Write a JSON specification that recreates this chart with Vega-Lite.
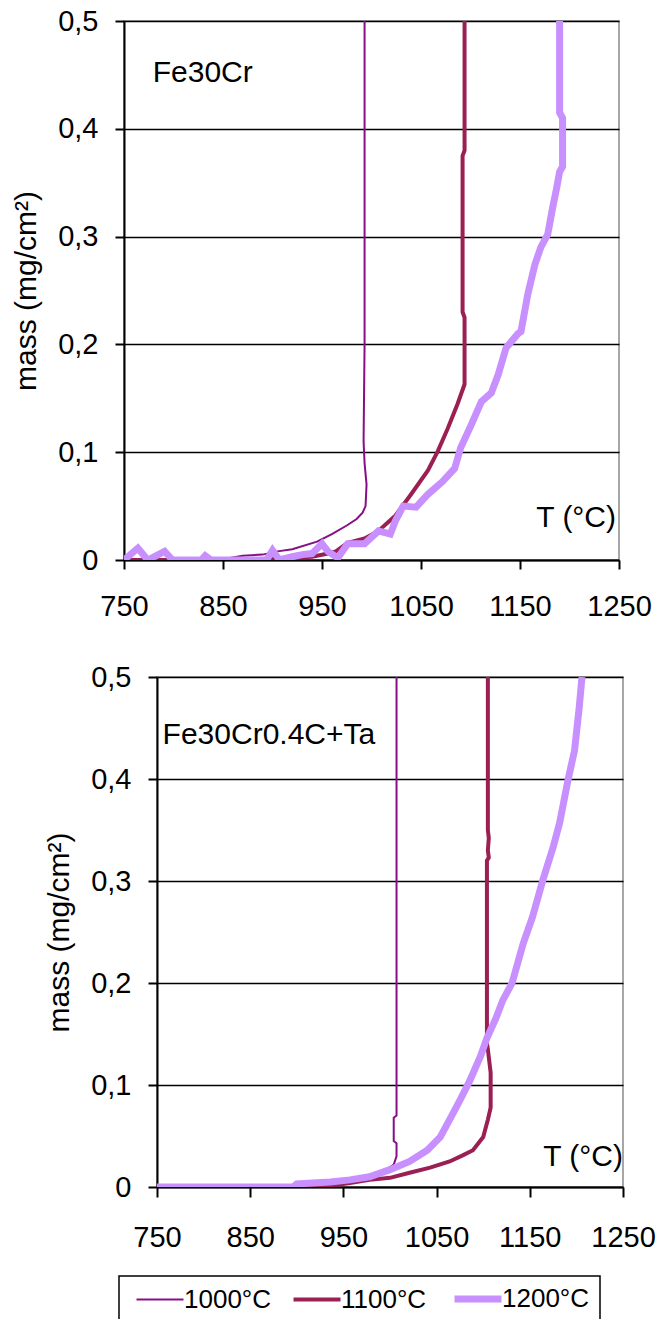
{
  "$schema": "https://vega.github.io/schema/vega-lite/v6.json",
  "padding": {"left": 10, "top": 6, "right": 0, "bottom": 0},
  "background": "white",
  "config": {
    "font": "Liberation Sans",
    "view": {"stroke": "#8a8a8a", "strokeWidth": 1.5},
    "axis": {
      "labelFont": "Liberation Sans", "labelColor": "#000", "labelFontSize": 29,
      "titleFont": "Liberation Sans", "titleColor": "#000", "titleFontSize": 30, "titleFontWeight": "normal",
      "domainColor": "#000", "domainWidth": 2, "tickColor": "#000", "tickWidth": 2, "tickSize": 9,
      "labelFlush": false, "labelOverlap": false
    },
    "text": {"font": "Liberation Sans", "color": "#000"}
  },
  "datasets": {
    "top": [
      {"series": "1000°C", "T": 750, "mass": 0, "i": 0},
      {"series": "1000°C", "T": 845, "mass": 0, "i": 1},
      {"series": "1000°C", "T": 870, "mass": 0.004, "i": 2},
      {"series": "1000°C", "T": 890, "mass": 0.005, "i": 3},
      {"series": "1000°C", "T": 905, "mass": 0.008, "i": 4},
      {"series": "1000°C", "T": 920, "mass": 0.01, "i": 5},
      {"series": "1000°C", "T": 945, "mass": 0.017, "i": 6},
      {"series": "1000°C", "T": 960, "mass": 0.024, "i": 7},
      {"series": "1000°C", "T": 975, "mass": 0.032, "i": 8},
      {"series": "1000°C", "T": 985, "mass": 0.038, "i": 9},
      {"series": "1000°C", "T": 991, "mass": 0.044, "i": 10},
      {"series": "1000°C", "T": 994, "mass": 0.05, "i": 11},
      {"series": "1000°C", "T": 995, "mass": 0.07, "i": 12},
      {"series": "1000°C", "T": 993, "mass": 0.09, "i": 13},
      {"series": "1000°C", "T": 992, "mass": 0.11, "i": 14},
      {"series": "1000°C", "T": 993, "mass": 0.2, "i": 15},
      {"series": "1000°C", "T": 993, "mass": 0.3, "i": 16},
      {"series": "1000°C", "T": 993, "mass": 0.4, "i": 17},
      {"series": "1000°C", "T": 993, "mass": 0.5, "i": 18},
      {"series": "1100°C", "T": 750, "mass": 0, "i": 0},
      {"series": "1100°C", "T": 850, "mass": 0, "i": 1},
      {"series": "1100°C", "T": 900, "mass": 0.001, "i": 2},
      {"series": "1100°C", "T": 940, "mass": 0.003, "i": 3},
      {"series": "1100°C", "T": 956, "mass": 0.006, "i": 4},
      {"series": "1100°C", "T": 964, "mass": 0.008, "i": 5},
      {"series": "1100°C", "T": 976, "mass": 0.016, "i": 6},
      {"series": "1100°C", "T": 993, "mass": 0.02, "i": 7},
      {"series": "1100°C", "T": 1007, "mass": 0.027, "i": 8},
      {"series": "1100°C", "T": 1024, "mass": 0.041, "i": 9},
      {"series": "1100°C", "T": 1040, "mass": 0.061, "i": 10},
      {"series": "1100°C", "T": 1057, "mass": 0.083, "i": 11},
      {"series": "1100°C", "T": 1067, "mass": 0.101, "i": 12},
      {"series": "1100°C", "T": 1077, "mass": 0.122, "i": 13},
      {"series": "1100°C", "T": 1087, "mass": 0.145, "i": 14},
      {"series": "1100°C", "T": 1094, "mass": 0.163, "i": 15},
      {"series": "1100°C", "T": 1094, "mass": 0.225, "i": 16},
      {"series": "1100°C", "T": 1092, "mass": 0.23, "i": 17},
      {"series": "1100°C", "T": 1092, "mass": 0.375, "i": 18},
      {"series": "1100°C", "T": 1094, "mass": 0.38, "i": 19},
      {"series": "1100°C", "T": 1094, "mass": 0.5, "i": 20},
      {"series": "1200°C", "T": 750, "mass": 0, "i": 0},
      {"series": "1200°C", "T": 764, "mass": 0.011, "i": 1},
      {"series": "1200°C", "T": 774, "mass": 0, "i": 2},
      {"series": "1200°C", "T": 791, "mass": 0.008, "i": 3},
      {"series": "1200°C", "T": 799, "mass": 0, "i": 4},
      {"series": "1200°C", "T": 828, "mass": 0, "i": 5},
      {"series": "1200°C", "T": 832, "mass": 0.004, "i": 6},
      {"series": "1200°C", "T": 838, "mass": 0, "i": 7},
      {"series": "1200°C", "T": 894, "mass": 0, "i": 8},
      {"series": "1200°C", "T": 900, "mass": 0.009, "i": 9},
      {"series": "1200°C", "T": 907, "mass": 0, "i": 10},
      {"series": "1200°C", "T": 920, "mass": 0.003, "i": 11},
      {"series": "1200°C", "T": 930, "mass": 0.005, "i": 12},
      {"series": "1200°C", "T": 940, "mass": 0.006, "i": 13},
      {"series": "1200°C", "T": 950, "mass": 0.015, "i": 14},
      {"series": "1200°C", "T": 956, "mass": 0.008, "i": 15},
      {"series": "1200°C", "T": 966, "mass": 0.002, "i": 16},
      {"series": "1200°C", "T": 976, "mass": 0.015, "i": 17},
      {"series": "1200°C", "T": 993, "mass": 0.015, "i": 18},
      {"series": "1200°C", "T": 1007, "mass": 0.027, "i": 19},
      {"series": "1200°C", "T": 1019, "mass": 0.024, "i": 20},
      {"series": "1200°C", "T": 1024, "mass": 0.036, "i": 21},
      {"series": "1200°C", "T": 1032, "mass": 0.05, "i": 22},
      {"series": "1200°C", "T": 1045, "mass": 0.049, "i": 23},
      {"series": "1200°C", "T": 1057, "mass": 0.061, "i": 24},
      {"series": "1200°C", "T": 1072, "mass": 0.073, "i": 25},
      {"series": "1200°C", "T": 1084, "mass": 0.085, "i": 26},
      {"series": "1200°C", "T": 1090, "mass": 0.104, "i": 27},
      {"series": "1200°C", "T": 1101, "mass": 0.126, "i": 28},
      {"series": "1200°C", "T": 1111, "mass": 0.147, "i": 29},
      {"series": "1200°C", "T": 1121, "mass": 0.155, "i": 30},
      {"series": "1200°C", "T": 1128, "mass": 0.172, "i": 31},
      {"series": "1200°C", "T": 1136, "mass": 0.197, "i": 32},
      {"series": "1200°C", "T": 1148, "mass": 0.21, "i": 33},
      {"series": "1200°C", "T": 1151, "mass": 0.212, "i": 34},
      {"series": "1200°C", "T": 1158, "mass": 0.247, "i": 35},
      {"series": "1200°C", "T": 1165, "mass": 0.274, "i": 36},
      {"series": "1200°C", "T": 1171, "mass": 0.29, "i": 37},
      {"series": "1200°C", "T": 1178, "mass": 0.302, "i": 38},
      {"series": "1200°C", "T": 1183, "mass": 0.327, "i": 39},
      {"series": "1200°C", "T": 1187, "mass": 0.345, "i": 40},
      {"series": "1200°C", "T": 1190, "mass": 0.36, "i": 41},
      {"series": "1200°C", "T": 1193, "mass": 0.365, "i": 42},
      {"series": "1200°C", "T": 1193, "mass": 0.41, "i": 43},
      {"series": "1200°C", "T": 1190, "mass": 0.415, "i": 44},
      {"series": "1200°C", "T": 1190, "mass": 0.5, "i": 45}
    ],
    "bottom": [
      {"series": "1000°C", "T": 750, "mass": 0, "i": 0},
      {"series": "1000°C", "T": 900, "mass": 0, "i": 1},
      {"series": "1000°C", "T": 940, "mass": 0.002, "i": 2},
      {"series": "1000°C", "T": 960, "mass": 0.005, "i": 3},
      {"series": "1000°C", "T": 980, "mass": 0.01, "i": 4},
      {"series": "1000°C", "T": 995, "mass": 0.016, "i": 5},
      {"series": "1000°C", "T": 1004, "mass": 0.022, "i": 6},
      {"series": "1000°C", "T": 1007, "mass": 0.03, "i": 7},
      {"series": "1000°C", "T": 1007, "mass": 0.043, "i": 8},
      {"series": "1000°C", "T": 1004, "mass": 0.045, "i": 9},
      {"series": "1000°C", "T": 1004, "mass": 0.068, "i": 10},
      {"series": "1000°C", "T": 1007, "mass": 0.07, "i": 11},
      {"series": "1000°C", "T": 1007, "mass": 0.5, "i": 12},
      {"series": "1100°C", "T": 750, "mass": 0, "i": 0},
      {"series": "1100°C", "T": 920, "mass": 0, "i": 1},
      {"series": "1100°C", "T": 935, "mass": 0.001, "i": 2},
      {"series": "1100°C", "T": 957, "mass": 0.004, "i": 3},
      {"series": "1100°C", "T": 978, "mass": 0.007, "i": 4},
      {"series": "1100°C", "T": 1000, "mass": 0.009, "i": 5},
      {"series": "1100°C", "T": 1021, "mass": 0.014, "i": 6},
      {"series": "1100°C", "T": 1043, "mass": 0.019, "i": 7},
      {"series": "1100°C", "T": 1064, "mass": 0.025, "i": 8},
      {"series": "1100°C", "T": 1078, "mass": 0.031, "i": 9},
      {"series": "1100°C", "T": 1089, "mass": 0.036, "i": 10},
      {"series": "1100°C", "T": 1100, "mass": 0.049, "i": 11},
      {"series": "1100°C", "T": 1105, "mass": 0.066, "i": 12},
      {"series": "1100°C", "T": 1108, "mass": 0.078, "i": 13},
      {"series": "1100°C", "T": 1108, "mass": 0.112, "i": 14},
      {"series": "1100°C", "T": 1105, "mass": 0.135, "i": 15},
      {"series": "1100°C", "T": 1104, "mass": 0.141, "i": 16},
      {"series": "1100°C", "T": 1104, "mass": 0.32, "i": 17},
      {"series": "1100°C", "T": 1106, "mass": 0.323, "i": 18},
      {"series": "1100°C", "T": 1105, "mass": 0.33, "i": 19},
      {"series": "1100°C", "T": 1106, "mass": 0.342, "i": 20},
      {"series": "1100°C", "T": 1105, "mass": 0.35, "i": 21},
      {"series": "1100°C", "T": 1105, "mass": 0.5, "i": 22},
      {"series": "1200°C", "T": 750, "mass": 0, "i": 0},
      {"series": "1200°C", "T": 896, "mass": 0, "i": 1},
      {"series": "1200°C", "T": 900, "mass": 0.003, "i": 2},
      {"series": "1200°C", "T": 936, "mass": 0.005, "i": 3},
      {"series": "1200°C", "T": 957, "mass": 0.007, "i": 4},
      {"series": "1200°C", "T": 978, "mass": 0.01, "i": 5},
      {"series": "1200°C", "T": 1000, "mass": 0.017, "i": 6},
      {"series": "1200°C", "T": 1021, "mass": 0.025, "i": 7},
      {"series": "1200°C", "T": 1040, "mass": 0.036, "i": 8},
      {"series": "1200°C", "T": 1054, "mass": 0.049, "i": 9},
      {"series": "1200°C", "T": 1064, "mass": 0.066, "i": 10},
      {"series": "1200°C", "T": 1075, "mass": 0.085, "i": 11},
      {"series": "1200°C", "T": 1086, "mass": 0.105, "i": 12},
      {"series": "1200°C", "T": 1097, "mass": 0.128, "i": 13},
      {"series": "1200°C", "T": 1104, "mass": 0.146, "i": 14},
      {"series": "1200°C", "T": 1113, "mass": 0.164, "i": 15},
      {"series": "1200°C", "T": 1121, "mass": 0.183, "i": 16},
      {"series": "1200°C", "T": 1131, "mass": 0.2, "i": 17},
      {"series": "1200°C", "T": 1143, "mass": 0.239, "i": 18},
      {"series": "1200°C", "T": 1153, "mass": 0.265, "i": 19},
      {"series": "1200°C", "T": 1164, "mass": 0.301, "i": 20},
      {"series": "1200°C", "T": 1175, "mass": 0.333, "i": 21},
      {"series": "1200°C", "T": 1182, "mass": 0.357, "i": 22},
      {"series": "1200°C", "T": 1191, "mass": 0.399, "i": 23},
      {"series": "1200°C", "T": 1198, "mass": 0.428, "i": 24},
      {"series": "1200°C", "T": 1203, "mass": 0.47, "i": 25},
      {"series": "1200°C", "T": 1206, "mass": 0.5, "i": 26}
    ]
  },
  "spacing": 40,
  "vconcat": [
    {
      "width": 495, "height": 539,
      "layer": [
        {
          "data": {"name": "top"},
          "mark": {"type": "line", "clip": true, "strokeCap": "butt"},
          "encoding": {
            "x": {"field": "T", "type": "quantitative", "scale": {"domain": [750, 1250], "nice": false, "zero": false},
              "axis": {"values": [750, 850, 950, 1050, 1150, 1250], "format": "d", "grid": false, "title": null, "labelPadding": 23}},
            "y": {"field": "mass", "type": "quantitative", "scale": {"domain": [0, 0.5], "nice": false},
              "axis": {"values": [0, 0.1, 0.2, 0.3, 0.4, 0.5], "grid": true, "gridColor": "#000", "gridWidth": 1.5,
                "labelExpr": "datum.value == 0 ? '0' : replace(format(datum.value, '.1f'), '.', ',')",
                "labelPadding": 17, "title": "mass (mg/cm²)", "titlePadding": 16}},
            "color": {"field": "series", "type": "nominal",
              "scale": {"domain": ["1000°C", "1100°C", "1200°C"], "range": ["#880E86", "#9A1F52", "#C890FF"]},
              "legend": {
                "orient": "none", "legendX": -5, "legendY": 1255, "direction": "horizontal", "title": null,
                "symbolType": "stroke", "symbolSize": 2209, "symbolStrokeWidth": 3, "symbolOffset": 18,
                "labelFontSize": 26, "labelFont": "Liberation Sans", "labelColor": "#000", "labelOffset": 11,
                "columnPadding": 13, "padding": 10, "strokeColor": "#000", "fillColor": "#fff",
                "encode": {
                  "symbols": {"update": {"strokeWidth": {"signal": "datum.value === '1000°C' ? 2 : datum.value === '1100°C' ? 4 : 7"}}},
                  "legend": {"update": {"strokeWidth": {"value": 1.5}}}
                }
              }},
            "strokeWidth": {"condition": [{"test": "datum.series === '1000°C'", "value": 2}, {"test": "datum.series === '1100°C'", "value": 4}], "value": 7},
            "order": {"field": "i", "type": "quantitative"}
          }
        },
        {
          "data": {"values": [{"T": 779, "mass": 0.452, "label": "Fe30Cr"}]},
          "mark": {"type": "text", "align": "left", "baseline": "middle", "fontSize": 30},
          "encoding": {"x": {"field": "T", "type": "quantitative"}, "y": {"field": "mass", "type": "quantitative"}, "text": {"field": "label"}}
        },
        {
          "data": {"values": [{"T": 1247, "mass": 0.039, "label": "T (°C)"}]},
          "mark": {"type": "text", "align": "right", "baseline": "middle", "fontSize": 30},
          "encoding": {"x": {"field": "T", "type": "quantitative"}, "y": {"field": "mass", "type": "quantitative"}, "text": {"field": "label"}}
        }
      ]
    },
    {
      "spacing": 0,
      "bounds": "flush",
      "hconcat": [
        {
          "width": 33, "height": 10,
          "view": {"stroke": null},
          "data": {"values": []},
          "mark": {"type": "point", "opacity": 0},
          "encoding": {}
        },
        {
          "width": 466, "height": 510,
          "layer": [
            {
              "data": {"name": "bottom"},
              "mark": {"type": "line", "clip": true, "strokeCap": "butt"},
              "encoding": {
                "x": {"field": "T", "type": "quantitative", "scale": {"domain": [750, 1250], "nice": false, "zero": false},
                  "axis": {"values": [750, 850, 950, 1050, 1150, 1250], "format": "d", "grid": false, "title": null, "labelPadding": 26, "tickSize": 10}},
                "y": {"field": "mass", "type": "quantitative", "scale": {"domain": [0, 0.5], "nice": false},
                  "axis": {"values": [0, 0.1, 0.2, 0.3, 0.4, 0.5], "grid": true, "gridColor": "#000", "gridWidth": 1.5,
                    "labelExpr": "datum.value == 0 ? '0' : replace(format(datum.value, '.1f'), '.', ',')",
                    "labelPadding": 17, "title": "mass (mg/cm²)", "titlePadding": 16}},
                "color": {"field": "series", "type": "nominal",
                  "scale": {"domain": ["1000°C", "1100°C", "1200°C"], "range": ["#880E86", "#9A1F52", "#C890FF"]}},
                "strokeWidth": {"condition": [{"test": "datum.series === '1000°C'", "value": 2}, {"test": "datum.series === '1100°C'", "value": 4}], "value": 7},
                "order": {"field": "i", "type": "quantitative"}
              }
            },
            {
              "data": {"values": [{"T": 756, "mass": 0.443, "label": "Fe30Cr0.4C+Ta"}]},
              "mark": {"type": "text", "align": "left", "baseline": "middle", "fontSize": 30},
              "encoding": {"x": {"field": "T", "type": "quantitative"}, "y": {"field": "mass", "type": "quantitative"}, "text": {"field": "label"}}
            },
            {
              "data": {"values": [{"T": 1250, "mass": 0.029, "label": "T (°C)"}]},
              "mark": {"type": "text", "align": "right", "baseline": "middle", "fontSize": 30},
              "encoding": {"x": {"field": "T", "type": "quantitative"}, "y": {"field": "mass", "type": "quantitative"}, "text": {"field": "label"}}
            }
          ]
        }
      ]
    }
  ]
}
